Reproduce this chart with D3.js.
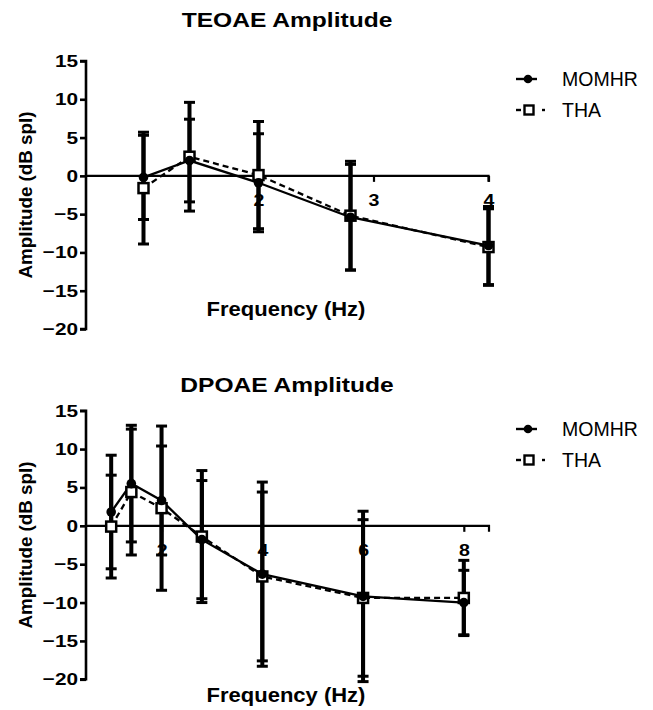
<!DOCTYPE html>
<html>
<head>
<meta charset="utf-8">
<script src="https://cdn.jsdelivr.net/npm/d3@7/dist/d3.min.js"></script>
<style>
  body { margin: 0; background: #fff; }
  svg { display: block; font-family: "Liberation Sans", Arial, sans-serif; }
</style>
</head>
<body>
<svg id="chart" width="653" height="710"></svg>
<script>
// ---- Data ----
const seriesNames = ["MOMHR", "THA"];
const yTickValues = [-20, -15, -10, -5, 0, 5, 10, 15];

// TEOAE
const teoaeFreq = [1, 1.4, 2, 2.8, 4];
const teoaeXTicks = [2, 3, 4];
const teoaeMomhrMean = [-0.2, 2.0, -0.9, -5.4, -9.1];
const teoaeMomhrSD   = [5.5, 5.4, 6.4, 6.9, 5.1];
const teoaeThaMean   = [-1.6, 2.5, 0.1, -5.2, -9.3];
const teoaeThaSD     = [7.3, 7.1, 7.0, 7.1, 5.0];

// DPOAE
const dpoaeFreq = [1, 1.4, 2, 2.8, 4, 6, 8];
const dpoaeXTicks = [2, 4, 6, 8];
const dpoaeMomhrMean = [1.8, 5.5, 3.3, -1.8, -6.3, -9.2, -10.0];
const dpoaeMomhrSD   = [7.4, 7.6, 7.1, 7.7, 12.0, 11.1, 4.2];
const dpoaeThaMean   = [-0.1, 4.4, 2.3, -1.4, -6.6, -9.4, -9.4];
const dpoaeThaSD     = [6.7, 8.2, 10.7, 8.6, 11.0, 10.2, 4.9];

const svg = d3.select("#chart");

function stretch(sel, factor) {
  sel.each(function () {
    const l = this.getComputedTextLength();
    this.setAttribute("textLength", (l * factor).toFixed(1));
    this.setAttribute("lengthAdjust", "spacingAndGlyphs");
  });
}

function panel(cfg) {
  const g = svg.append("g");
  const x = d3.scaleLinear().domain(cfg.xDomain).range([cfg.left, cfg.right]);
  const y = d3.scaleLinear().domain([-20, 15]).range([cfg.bottom, cfg.top]);

  // title
  const t = g.append("text").attr("x", 287).attr("y", cfg.titleY)
    .attr("text-anchor", "middle").attr("font-size", 21).attr("font-weight", "bold")
    .text(cfg.title);
  stretch(t, 1.17);

  // y axis
  const yAxis = d3.axisLeft(y).tickValues(yTickValues).tickSize(6).tickPadding(2).tickFormat(d3.format("d"));
  const ya = g.append("g").attr("transform", `translate(${cfg.left},0)`).call(yAxis);
  ya.select(".domain").attr("stroke", "#000").attr("stroke-width", 2.6).attr("d", `M-6,${cfg.top}H0V${cfg.bottom}H-6`);
  ya.selectAll(".tick line").attr("stroke", "#000").attr("stroke-width", 2.6);
  ya.selectAll(".tick text").attr("font-size", 17).attr("font-weight", "bold").attr("fill", "#000")
    .attr("font-family", "Liberation Sans, Arial, sans-serif");
  stretch(ya.selectAll(".tick text"), 1.22);

  // x axis at zero
  const xAxis = d3.axisBottom(x).tickValues(cfg.xTicks).tickSize(6).tickPadding(12).tickFormat(d3.format("d"));
  const xa = g.append("g").attr("transform", `translate(0,${y(0)})`).call(xAxis);
  xa.select(".domain").attr("stroke", "#000").attr("stroke-width", 2.2).attr("d", `M${cfg.left},0H${cfg.right}V6`);
  xa.selectAll(".tick line").attr("stroke", "#000").attr("stroke-width", 2.2);
  xa.selectAll(".tick text").attr("font-size", 17).attr("font-weight", "bold").attr("fill", "#000")
    .attr("font-family", "Liberation Sans, Arial, sans-serif");
  stretch(xa.selectAll(".tick text"), 1.15);

  // axis labels
  const xl = g.append("text").attr("x", 286).attr("y", cfg.xLabelY)
    .attr("text-anchor", "middle").attr("font-size", 20).attr("font-weight", "bold")
    .text("Frequency (Hz)");
  stretch(xl, 1.1);
  g.append("text")
    .attr("transform", `translate(32,${(cfg.top + cfg.bottom) / 2}) rotate(-90)`)
    .attr("text-anchor", "middle").attr("font-size", 18.8).attr("font-weight", "bold")
    .text("Amplitude (dB spl)");

  const series = [
    { name: seriesNames[0], mean: cfg.momhrMean, sd: cfg.momhrSD, dash: null, marker: "circle" },
    { name: seriesNames[1], mean: cfg.thaMean, sd: cfg.thaSD, dash: "6,4", marker: "square" }
  ];

  // lines
  series.forEach(s => {
    const line = d3.line().x((d, i) => x(cfg.freq[i])).y(d => y(d));
    g.append("path").datum(s.mean).attr("d", line)
      .attr("fill", "none").attr("stroke", "#000").attr("stroke-width", 2.3)
      .attr("stroke-dasharray", s.dash);
  });

  // error bars
  series.forEach(s => {
    s.mean.forEach((m, i) => {
      const cx = x(cfg.freq[i]);
      const hi = y(m + s.sd[i]), lo = y(m - s.sd[i]);
      g.append("line").attr("x1", cx).attr("x2", cx).attr("y1", hi).attr("y2", lo)
        .attr("stroke", "#000").attr("stroke-width", 4);
      [hi, lo].forEach(yy => {
        g.append("line").attr("x1", cx - 5.5).attr("x2", cx + 5.5).attr("y1", yy).attr("y2", yy)
          .attr("stroke", "#000").attr("stroke-width", 3);
      });
    });
  });

  // markers
  series.slice().reverse().forEach(s => {
    s.mean.forEach((m, i) => {
      const cx = x(cfg.freq[i]), cy = y(m);
      if (s.marker === "circle") {
        g.append("circle").attr("cx", cx).attr("cy", cy).attr("r", 4.8).attr("fill", "#000");
      } else {
        g.append("rect").attr("x", cx - 5).attr("y", cy - 5).attr("width", 10).attr("height", 10)
          .attr("fill", "#fff").attr("stroke", "#000").attr("stroke-width", 2.5);
      }
    });
  });

  // legend
  series.forEach((s, k) => {
    const ly = cfg.legendY + k * 31;
    if (s.marker === "circle") {
      g.append("line").attr("x1", 516).attr("x2", 537).attr("y1", ly).attr("y2", ly)
        .attr("stroke", "#000").attr("stroke-width", 2.4);
      g.append("circle").attr("cx", 528).attr("cy", ly).attr("r", 4.3).attr("fill", "#000");
    } else {
      g.append("line").attr("x1", 516).attr("x2", 521).attr("y1", ly).attr("y2", ly)
        .attr("stroke", "#000").attr("stroke-width", 2.4);
      g.append("line").attr("x1", 542).attr("x2", 545).attr("y1", ly).attr("y2", ly)
        .attr("stroke", "#000").attr("stroke-width", 2.4);
      g.append("rect").attr("x", 524.5).attr("y", ly - 4.5).attr("width", 9).attr("height", 9)
        .attr("fill", "#fff").attr("stroke", "#000").attr("stroke-width", 2.4);
    }
    g.append("text").attr("x", 562).attr("y", ly).attr("dy", "0.35em")
      .attr("font-size", 19.5).attr("fill", "#000").text(s.name);
  });
}

panel({
  title: "TEOAE Amplitude", titleY: 27,
  left: 86, right: 488.5, top: 61, bottom: 329,
  xDomain: [0.5, 4], xTicks: teoaeXTicks, freq: teoaeFreq,
  momhrMean: teoaeMomhrMean, momhrSD: teoaeMomhrSD,
  thaMean: teoaeThaMean, thaSD: teoaeThaSD,
  xLabelY: 316, legendY: 79
});

panel({
  title: "DPOAE Amplitude", titleY: 391.5,
  left: 86, right: 489, top: 410.7, bottom: 679.3,
  xDomain: [0.5, 8.5], xTicks: dpoaeXTicks, freq: dpoaeFreq,
  momhrMean: dpoaeMomhrMean, momhrSD: dpoaeMomhrSD,
  thaMean: dpoaeThaMean, thaSD: dpoaeThaSD,
  xLabelY: 701.5, legendY: 429
});
</script>
</body>
</html>
